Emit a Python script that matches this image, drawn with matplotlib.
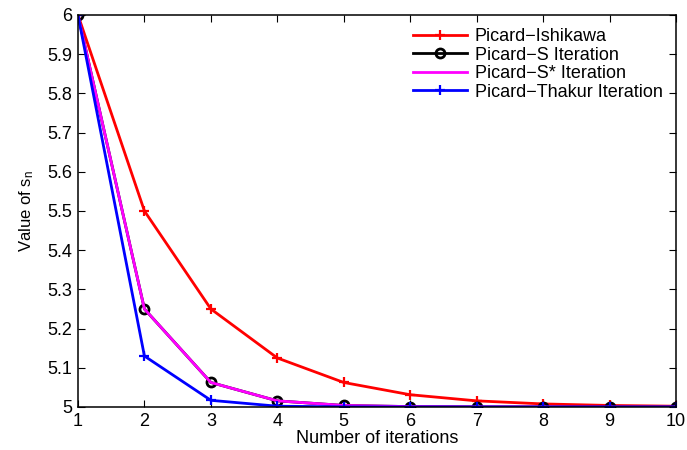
import matplotlib
matplotlib.use("Agg")
import matplotlib.pyplot as plt

plt.rcParams['font.family'] = ['Liberation Sans', 'DejaVu Sans']
plt.rcParams['mathtext.fontset'] = 'custom'
plt.rcParams['mathtext.rm'] = 'Liberation Sans'
plt.rcParams['mathtext.it'] = 'Liberation Sans'

iterations = [1, 2, 3, 4, 5, 6, 7, 8, 9, 10]
ishikawa = [6, 5.5, 5.25, 5.125, 5.0625, 5.03125, 5.015625, 5.0078, 5.0039, 5.002]
picard_s = [6, 5.25, 5.0625, 5.015625, 5.0039, 5.001, 5.0002, 5.0001, 5.0, 5.0]
picard_s_star = [6, 5.25, 5.0625, 5.015625, 5.0039, 5.001, 5.0002, 5.0001, 5.0, 5.0]
thakur = [6, 5.13, 5.017, 5.002, 5.0003, 5.0, 5.0, 5.0, 5.0, 5.0]

fig = plt.figure(figsize=(6.87, 4.5), dpi=100)
ax = fig.add_axes([0.1135, 0.0956, 0.8705, 0.8711])

ax.plot(iterations, ishikawa, color='red', lw=2, marker='+', ms=7, mew=1.6, label='Picard\u2212Ishikawa')
ax.plot(iterations, picard_s, color='black', lw=2, marker='o', ms=6.5, mfc='none', mew=2, label='Picard\u2212S Iteration')
ax.plot(iterations, picard_s_star, color='magenta', lw=2, label='Picard\u2212S* Iteration')
ax.plot(iterations, thakur, color='blue', lw=2, marker='+', ms=7, mew=1.6, label='Picard\u2212Thakur Iteration')

ax.set_xlim(1, 10)
ax.set_ylim(5, 6)
ax.set_xticks(range(1, 11))
ax.set_yticks([5, 5.1, 5.2, 5.3, 5.4, 5.5, 5.6, 5.7, 5.8, 5.9, 6])
ax.set_yticklabels(['5', '5.1', '5.2', '5.3', '5.4', '5.5', '5.6', '5.7', '5.8', '5.9', '6'])
ax.tick_params(direction='in', top=True, right=True, length=5, labelsize=13, width=0.8, pad=4)
for s in ax.spines.values():
    s.set_linewidth(1.1)
ax.set_xlabel('Number of iterations', fontsize=13, labelpad=0)
ax.set_ylabel('Value of s$_\\mathregular{n}$', fontsize=12, labelpad=8)

ax.legend(loc='upper right', frameon=False, fontsize=13, handlelength=3.0,
          labelspacing=0.08, handletextpad=0.45, borderpad=0.3,
          bbox_to_anchor=(1.002, 1.003))

fig.savefig('out.png', dpi=100)
